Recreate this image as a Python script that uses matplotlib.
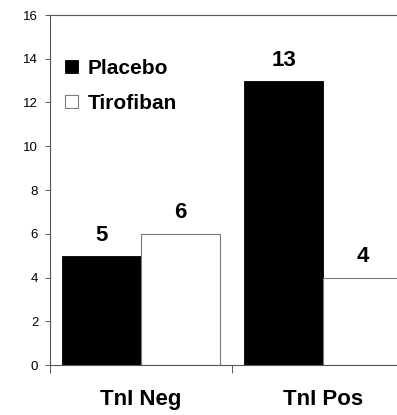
import matplotlib
matplotlib.use("Agg")
import matplotlib.pyplot as plt
import numpy as np
from matplotlib.patches import Patch

plt.rcParams['font.family'] = ['Liberation Sans', 'DejaVu Sans']

groups = ["TnI Neg", "TnI Pos"]
series = ["Placebo", "Tirofiban"]
placebo = [5, 13]
tirofiban = [6, 4]
yticks = [0, 2, 4, 6, 8, 10, 12, 14, 16]

W, H = 397, 415
fig = plt.figure(figsize=(W / 100, H / 100), dpi=100)
ax = fig.add_axes([50 / W, 50 / H, 364 / W, 350 / H])

x = np.arange(len(groups))
bw = 0.434
edge_grey = "#7a7a7a"
ax.bar(x - bw / 2, placebo, width=bw, color="black", edgecolor="black", linewidth=0.6, zorder=2)
ax.bar(x + bw / 2, tirofiban, width=bw, color="white", edgecolor=edge_grey, linewidth=0.8, zorder=2)

for xi, v in zip(x - bw / 2, placebo):
    ax.annotate(str(v), (xi, v), xytext=(0, 10.5), textcoords="offset points",
                ha="center", va="baseline", fontsize=16, fontweight="bold")
for xi, v in zip(x + bw / 2, tirofiban):
    ax.annotate(str(v), (xi, v), xytext=(0, 11.5), textcoords="offset points",
                ha="center", va="baseline", fontsize=16, fontweight="bold")

ax.set_xlim(-0.5, 1.5)
ax.set_ylim(0, 16)
ax.set_yticks(yticks)
ax.set_yticklabels([str(t) for t in yticks], fontsize=9.5)
ax.tick_params(axis="y", direction="out", length=3.5, width=0.7, color="#555555", pad=5)

ax.set_xticks(x)
ax.set_xticklabels(groups, fontsize=16, fontweight="bold")
ax.tick_params(axis="x", which="major", length=0, pad=17)
ax.set_xticks([-0.5, 0.5], minor=True)
ax.tick_params(axis="x", which="minor", direction="out", length=6, width=0.7, color="#555555")

for side in ["left", "top", "bottom"]:
    ax.spines[side].set_color("#555555")
    ax.spines[side].set_linewidth(0.8)
ax.spines["right"].set_visible(False)

handles = [Patch(facecolor="black", edgecolor="black", linewidth=0.6),
           Patch(facecolor="white", edgecolor=edge_grey, linewidth=0.8)]
ax.legend(handles, series, loc="upper left", bbox_to_anchor=(65 / W, 1 - 59 / H),
          bbox_transform=fig.transFigure, frameon=False, borderpad=0, borderaxespad=0,
          handlelength=0.62, handleheight=0.62, handletextpad=0.45, labelspacing=0.75,
          prop={"size": 15, "weight": "bold"})

fig.savefig("out.png", dpi=100)
